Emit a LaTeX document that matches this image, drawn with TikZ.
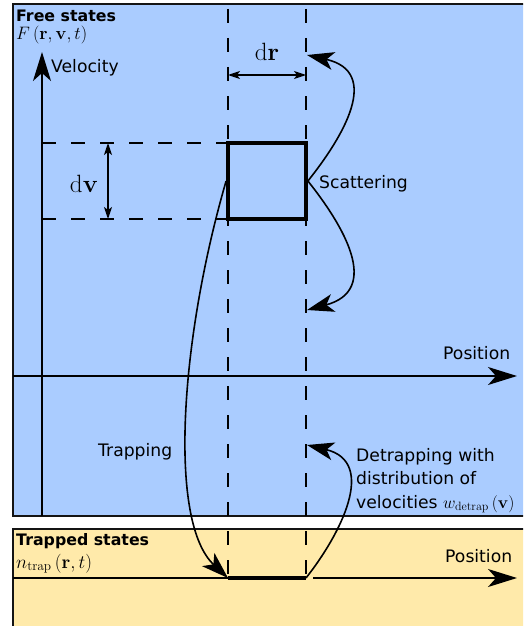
\RequirePackage{fix-cm}
\documentclass[tikz,border=0pt]{standalone}
\usepackage{amsmath,amssymb}
\usepackage[no-math]{fontspec}
\setmainfont{DejaVu Sans}
\usepackage{xcolor}
\usetikzlibrary{arrows.meta}
\definecolor{freeBlue}{RGB}{170,204,255}
\definecolor{trapYellow}{RGB}{255,234,170}
\definecolor{lineInk}{RGB}{20,20,20}
\newcommand{\lblsize}{\fontsize{17.2}{23.5}\selectfont}
\newcommand{\headsize}{\fontsize{15.8}{19}\selectfont}
\newcommand{\mathsize}{\fontsize{18}{21}\selectfont}
\newcommand{\trapsize}{\fontsize{19}{22}\selectfont}
\newcommand{\dimsize}{\fontsize{25}{29}\selectfont}

\begin{document}
\begin{tikzpicture}[x=1pt,y=-1pt,
  statebox/.style={draw=lineInk,line width=1.3pt},
  axis/.style={-{Stealth[length=29pt,width=18pt,inset=8pt]},line width=1.5pt},
  guide/.style={dash pattern=on 14pt off 15pt,line width=1.6pt},
  dimarr/.style={{Stealth[length=12pt,width=8pt,inset=3pt]}-{Stealth[length=12pt,width=8pt,inset=3pt]},
                 line width=1.3pt},
  flow/.style={-{Stealth[length=27pt,width=18pt,inset=7pt]},line width=1.6pt},
  lbl/.style={font=\lblsize,inner sep=0pt},
  head/.style={font=\headsize\bfseries,anchor=north west,inner sep=0pt},
  cellbox/.style={draw,line width=3.8pt,minimum width=78pt,minimum height=76pt,inner sep=0pt}]

\useasboundingbox (0,0) rectangle (523,626);
\clip (0,0) rectangle (523,626);

% ===== FREE STATES — blue box, open to the right =====
\fill[freeBlue] (13,4) rectangle (540,516);
\draw[statebox] (540,4) -| (13,516) -- (540,516);
\node[head] (free) at (16,10) {Free states};
\node[font=\mathsize,anchor=base west,inner sep=0pt] (freeF) at (16,40)
   {$F\left(\mathbf{r},\mathbf{v},t\right)$};

% ===== TRAPPED STATES — yellow box =====
\fill[trapYellow] (13,529) rectangle (540,640);
\draw[statebox] (540,529) -| (13,640);
\node[head] (trapped) at (16,533) {Trapped states};
\node[font=\trapsize,anchor=base west,inner sep=0pt] (trappedN) at (16,568)
   {$n_{\mathrm{trap}}\left(\mathbf{r},t\right)$};

% Axes
\draw[axis] (42,516) -- (42,52);
\node[lbl,anchor=base west] (vel) at (51,73) {Velocity};
\draw[axis] (13,376) -- (517,376);
\node[lbl,anchor=base west] (posF) at (443,359) {Position};

% Phase-space cell and guide lines
\node[cellbox] (cell) at (267,181) {};
\coordinate (trapL) at (228,578);
\coordinate (trapR) at (306,578);
\draw[guide] (228,9) -- (trapL);
\draw[guide] (306,9) -- (trapR);
\draw[guide] (42,143) -- (228,143);
\draw[guide] (42,219) -- (228,219);

% dr and dv
\coordinate (drL) at (228,75);
\coordinate (drR) at (306,75);
\draw[dimarr] (drL) -- (drR);
\node[font=\dimsize,anchor=base,inner sep=0pt] (dr) at (267,60) {$\mathrm{d}\mathbf{r}$};
\coordinate (dvT) at (108,143);
\coordinate (dvB) at (108,219);
\draw[dimarr] (dvT) -- (dvB);
\node[font=\dimsize,anchor=base,inner sep=0pt] (dv) at (84,192) {$\mathrm{d}\mathbf{v}$};

% Trapped axis
\draw[line width=1.3pt] (13,578) -- (trapL);
\draw[line width=4pt] (trapL) -- (trapR);
\coordinate (posStart) at (313,578);
\draw[axis] (posStart) -- (517,578);
\node[lbl,anchor=base west] (posT) at (445,562) {Position};

% Scattering
\coordinate (scatUp) at (307,55);
\coordinate (scatDown) at (307,310);
\draw[flow] (cell.east) .. controls (343,137) and (382,72) .. (scatUp);
\draw[flow] (cell.east) .. controls (343,225) and (382,290) .. (scatDown);
\node[lbl,anchor=base west] (scat) at (319,188) {Scattering};

% Trapping
\draw[flow] (cell.west) .. controls (180,340) and (168,522) .. (trapL);
\node[lbl,anchor=base west] (trap) at (98,456) {Trapping};

% Detrapping
\coordinate (detrapTip) at (307,445);
\draw[flow] (trapR) .. controls (340,535) and (378,462) .. (detrapTip);
\node[lbl,anchor=north west,align=left] (detrap) at (356,448)
   {Detrapping with\\distribution of\\velocities $w_{\mathrm{detrap}}\left(\mathbf{v}\right)$};
\end{tikzpicture}
\end{document}
